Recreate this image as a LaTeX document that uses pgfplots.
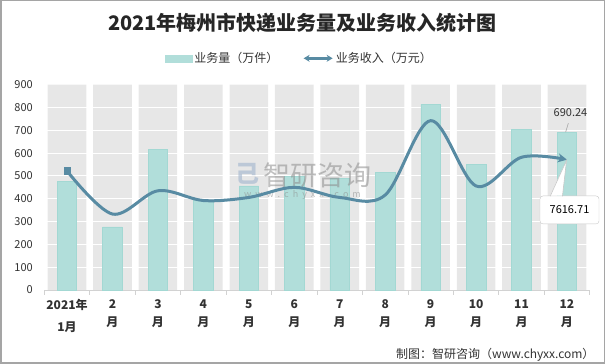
\documentclass[border=0pt]{standalone}
\usepackage{fontspec}
\setmainfont{Noto Sans CJK SC}
\usepackage{pgfplots}
\pgfplotsset{compat=1.18}
\usetikzlibrary{arrows.meta}
\definecolor{bandgray}{RGB}{231,231,231}
\definecolor{barfill}{RGB}{177,222,218}
\definecolor{bardraw}{RGB}{163,216,211}
\definecolor{linecol}{RGB}{88,139,163}
\definecolor{axisgray}{RGB}{210,210,210}
\definecolor{tickcol}{RGB}{50,50,50}
\definecolor{titlecol}{RGB}{38,38,38}
\definecolor{framegray}{RGB}{165,165,165}
\definecolor{wmgray}{RGB}{140,140,140}
\definecolor{wmblue}{RGB}{160,180,205}
\definecolor{boxgray}{RGB}{200,200,200}
\begin{document}
\begin{tikzpicture}
\path[use as bounding box] (0pt,0pt) rectangle (605pt,364pt);
\draw[framegray, line width=1.5pt] (0.75pt,0.75pt) rectangle (604.25pt,363.25pt);
\node[font=\bfseries\fontsize{20}{20}\selectfont, text=titlecol] at (302.5pt,341.4pt) {2021年梅州市快递业务量及业务收入统计图};
\node[font=\fontsize{12}{12}\selectfont, text=tickcol, anchor=east] at (598pt,9pt) {制图：智研咨询（www.chyxx.com）};
\begin{axis}[
  at={(44.3pt,74pt)}, anchor=south west,
  scale only axis, width=545.4pt, height=205.3pt,
  xmin=-0.5, xmax=11.5, ymin=0, ymax=900,
  clip=false,
  axis x line*=bottom, axis y line*=left,
  axis line style={-},
  x axis line style={draw=axisgray, line width=0.8pt},
  y axis line style={draw=none},
  major tick length=0pt,
  tick style={draw=axisgray, line width=0.8pt},
  ytick={0,100,...,900},
  yticklabel style={font=\fontsize{11}{11}\selectfont, text=tickcol, xshift=-8pt},
  xtick={0,...,11},
  xticklabels={{2021年\\[3pt]1月},{2\\月},{3\\月},{4\\月},{5\\月},{6\\月},{7\\月},{8\\月},{9\\月},{10\\月},{11\\月},{12\\月}},
  xticklabel style={align=center, font=\bfseries\fontsize{12}{18.5}\selectfont, text=tickcol, yshift=-6pt},
  extra x ticks={-0.5,0.5,...,11.5},
  extra x tick labels={},
  extra x tick style={major tick length=5pt, tick align=outside},
  /pgf/number format/assume math mode=true,
  legend style={at={(0.468,1.1286)}, anchor=center, draw=none, fill=none, legend columns=2,
    font=\fontsize{12}{12}\selectfont, text=tickcol,
    /tikz/every even column/.append style={column sep=22pt}},
]
% background bands
\addplot[ybar, bar width=0.85, bar shift=0pt, fill=bandgray, draw=none, forget plot]
  coordinates {(0,900)(1,900)(2,900)(3,900)(4,900)(5,900)(6,900)(7,900)(8,900)(9,900)(10,900)(11,900)};
\pgfplotsinvokeforeach{100,200,...,800}{\draw[white, line width=1pt] (axis cs:-0.5,#1) -- (axis cs:11.5,#1);}
% volume bars
\addplot[ybar, bar width=0.43, bar shift=0pt, fill=barfill, draw=bardraw, line width=0.6pt,
  legend image code/.code={\fill[barfill] (0pt,-3.5pt) rectangle (26.6pt,3.5pt);}]
  coordinates {(0,475)(1,277)(2,616)(3,395)(4,456)(5,497)(6,490)(7,514)(8,814)(9,551)(10,704)(11,690.24)};
\addlegendentry{业务量（万件）}
% watermark
\node[font=\fontsize{27}{27}\selectfont, text=wmgray, opacity=0.55] at (axis cs:5.50,504) {智研咨询};
\node[font=\fontsize{9}{9}\selectfont, text=wmgray, opacity=0.55] at (axis cs:5.18,416) {w\hspace{4pt}w\hspace{4pt}w\hspace{4pt}.\hspace{4pt}c\hspace{4pt}h\hspace{4pt}y\hspace{4pt}x\hspace{4pt}x\hspace{4pt}.\hspace{4pt}c\hspace{4pt}o\hspace{4pt}m};
\node[font=\bfseries\fontsize{24}{24}\selectfont, text=wmblue, opacity=0.6] at (axis cs:3.97,509) {己};
% revenue line (secondary scale 0-12000 mapped to 0-900)
\addplot[smooth, tension=0.55, color=linecol, line width=3pt, -{Stealth[length=9pt,width=9pt]},
  mark=square*, mark indices={1}, mark size=3.2pt, mark options={fill=linecol, draw=linecol, line width=0.5pt},
  y filter/.expression={y*0.075},
  legend image code/.code={\draw[linecol, line width=2.5pt, {Stealth[length=6pt,width=7pt]}-{Stealth[length=6pt,width=7pt]}] (0pt,0pt) -- (29pt,0pt);}]
  coordinates {(0,6960)(1,4440)(2,5800)(3,5230)(4,5410)(5,6000)(6,5410)(7,5550)(8,9900)(9,6080)(10,7760)(11,7616.71)};
\addlegendentry{业务收入（万元）}
% data labels
\draw[gray!70, line width=0.6pt] (axis cs:11.03,731) -- (axis cs:10.97,692);
\node[font=\fontsize{11}{11}\selectfont, text=tickcol] at (axis cs:11.077,776) {690.24};
\node[draw=boxgray, fill=white, rounded corners=3pt, minimum width=59pt, minimum height=28pt,
  font=\fontsize{11}{11}\selectfont, text=black] at (axis cs:11.056,351) {7616.71};
\fill[white] (axis cs:10.63,414) -- (axis cs:10.99,568) -- (axis cs:10.90,414) -- cycle;
\draw[boxgray, line width=0.6pt] (axis cs:10.63,411) -- (axis cs:10.99,568) -- (axis cs:10.90,411);
\end{axis}
\end{tikzpicture}
\end{document}
